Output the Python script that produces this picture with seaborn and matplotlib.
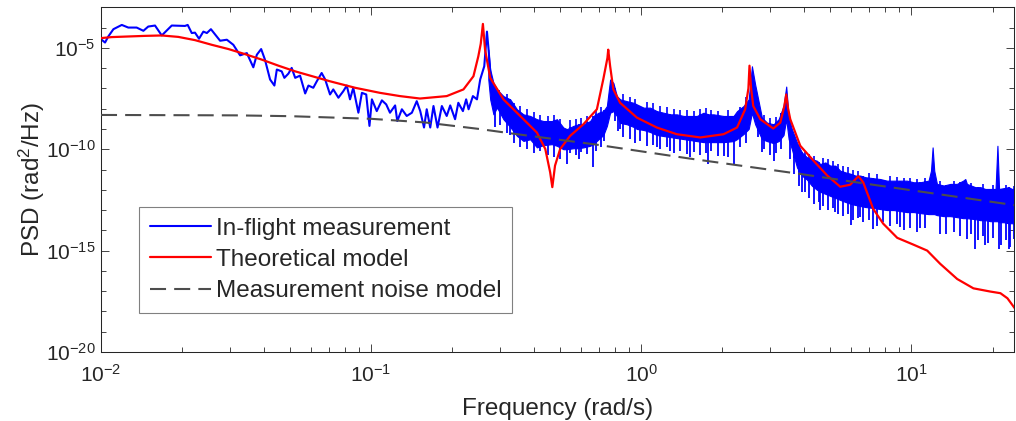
import numpy as np
import matplotlib
matplotlib.use("Agg")
import matplotlib.pyplot as plt
import seaborn as sns
from matplotlib.ticker import FixedLocator, LogLocator, LogFormatterSciNotation, NullFormatter

# values, kept as log10(frequency) / log10(PSD)

# in-flight measurement, low frequency part (single wiggly trace)
meas_lf = [-2.00, -1.985, -1.973, -1.954, -1.923, -1.899, -1.868, -1.843, -1.825, -1.800,
           -1.775, -1.738, -1.689, -1.679, -1.664, -1.652, -1.637, -1.621, -1.608, -1.593,
           -1.559, -1.534, -1.510, -1.485, -1.460, -1.436, -1.423, -1.407, -1.393, -1.374,
           -1.358, -1.349, -1.331, -1.321, -1.306, -1.294, -1.281, -1.263, -1.244, -1.232,
           -1.214, -1.201, -1.183, -1.170, -1.152, -1.140, -1.121, -1.103, -1.090, -1.078,
           -1.066, -1.047, -1.034, -1.018, -1.006, -0.997, -0.979, -0.960, -0.944, -0.930,
           -0.911, -0.903, -0.886, -0.868, -0.849, -0.831, -0.818, -0.804, -0.794, -0.781,
           -0.769, -0.754, -0.738, -0.720, -0.707, -0.689, -0.677, -0.660, -0.648, -0.639,
           -0.623, -0.608, -0.596, -0.581, -0.571, -0.565, -0.553]
meas_lpsd = [-4.57, -4.74, -4.44, -4.08, -3.87, -4.00, -4.00, -4.16, -3.95, -3.90,
             -4.39, -3.90, -3.92, -3.87, -4.27, -4.25, -4.55, -4.20, -4.27, -4.08,
             -4.65, -4.60, -4.85, -5.37, -5.26, -5.96, -5.34, -5.06, -5.58, -6.56,
             -6.86, -6.07, -6.16, -6.48, -6.27, -5.99, -6.48, -6.37, -7.25, -6.86,
             -6.97, -6.65, -6.24, -6.56, -7.30, -7.05, -7.46, -7.14, -6.86, -7.54,
             -6.97, -8.20, -7.22, -7.30, -8.85, -7.54, -8.12, -7.59, -7.79, -8.20,
             -7.84, -8.61, -8.03, -8.36, -8.20, -7.63, -8.12, -8.93, -8.03, -8.93,
             -7.87, -8.93, -7.87, -8.36, -7.84, -8.52, -7.71, -8.12, -7.54, -8.03,
             -7.38, -7.54, -6.56, -5.91, -4.20, -5.09, -7.22]

# in-flight measurement, dense high frequency part: top and usual bottom of the band
band_lf = [-0.566, -0.559, -0.547, -0.534, -0.510, -0.485, -0.460, -0.436, -0.411, -0.386,
           -0.362, -0.331, -0.312, -0.288, -0.275, -0.251, -0.232, -0.214, -0.189, -0.177,
           -0.158, -0.140, -0.127, -0.115, -0.103, -0.090, -0.078, -0.053, -0.028, -0.016,
           0.009, 0.033, 0.058, 0.083, 0.108, 0.132, 0.157, 0.182, 0.206, 0.231,
           0.249, 0.268, 0.305, 0.342, 0.355, 0.379, 0.398, 0.410, 0.422, 0.447,
           0.466, 0.490, 0.509, 0.527, 0.537, 0.546, 0.558, 0.577, 0.595, 0.614,
           0.632, 0.651, 0.663, 0.682, 0.700, 0.719, 0.737, 0.756, 0.778, 0.793,
           0.811, 0.830, 0.860, 0.885, 0.910, 0.935, 0.959, 0.984, 1.009, 1.033,
           1.064, 1.073, 1.079, 1.085, 1.095, 1.120, 1.145, 1.169, 1.192, 1.200,
           1.206, 1.237, 1.256, 1.274, 1.293, 1.312, 1.319, 1.325, 1.342, 1.360,
           1.373, 1.389]
band_hi = [-5.09, -6.07, -6.73, -7.05, -7.38, -7.54, -8.03, -8.28, -8.36, -8.52,
           -8.61, -8.61, -8.52, -8.93, -9.01, -8.85, -8.77, -8.77, -8.61, -8.36,
           -8.20, -8.12, -7.87, -6.56, -6.73, -7.38, -7.54, -7.63, -7.71, -7.79,
           -7.95, -7.95, -8.12, -8.20, -8.28, -8.28, -8.36, -8.36, -8.36, -8.20,
           -8.28, -8.28, -8.36, -8.36, -8.12, -7.87, -7.54, -5.91, -6.81, -8.44,
           -8.69, -8.77, -8.52, -7.87, -6.91, -8.43, -9.01, -9.67, -10.16, -10.40,
           -10.49, -10.57, -10.73, -10.65, -10.81, -10.81, -11.06, -11.14, -11.22, -11.30,
           -11.30, -11.38, -11.43, -11.47, -11.55, -11.55, -11.55, -11.55, -11.63, -11.63,
           -11.55, -11.06, -9.91, -11.06, -11.71, -11.79, -11.71, -11.71, -11.55, -11.47,
           -11.71, -11.87, -11.87, -11.96, -11.96, -11.96, -9.83, -11.96, -11.92, -11.87,
           -11.96, -11.96]
band_lo = [-6.56, -7.54, -8.28, -7.94, -8.52, -8.90, -9.34, -9.59, -9.51, -9.91,
           -9.80, -9.75, -9.83, -10.00, -10.00, -9.95, -9.95, -9.91, -9.83, -9.75,
           -9.51, -9.30, -8.85, -8.20, -8.12, -8.36, -8.70, -8.77, -8.90, -9.00,
           -9.05, -9.15, -9.30, -9.35, -9.40, -9.45, -9.50, -9.55, -9.60, -9.65,
           -9.65, -9.65, -9.65, -9.60, -9.50, -9.25, -9.00, -8.20, -8.77, -9.50,
           -9.60, -9.70, -9.60, -9.30, -8.52, -9.50, -10.00, -10.90, -11.30, -11.50,
           -11.80, -12.00, -12.10, -12.20, -12.30, -12.40, -12.50, -12.60, -12.70, -12.75,
           -12.80, -12.85, -12.90, -12.95, -13.00, -13.00, -13.05, -13.10, -13.10, -13.15,
           -13.20, -13.20, -13.20, -13.20, -13.25, -13.30, -13.30, -13.35, -13.40, -13.40,
           -13.40, -13.45, -13.50, -13.50, -13.55, -13.55, -13.55, -13.60, -13.60, -13.65,
           -13.65, -13.70]

# narrow dips hanging below the band
dip_lf = [-0.540, -0.522, -0.497, -0.485, -0.472, -0.448, -0.423, -0.398, -0.374, -0.346,
          -0.322, -0.300, -0.275, -0.262, -0.242, -0.232, -0.222, -0.200, -0.177, -0.168,
          -0.150, -0.138, -0.096, -0.084, -0.078, -0.066, -0.040, -0.022, -0.004, 0.021,
          0.045, 0.058, 0.070, 0.095, 0.108, 0.120, 0.145, 0.170, 0.182, 0.194,
          0.218, 0.240, 0.249, 0.258, 0.286, 0.305, 0.323, 0.342, 0.365, 0.388,
          0.434, 0.447, 0.456, 0.478, 0.490, 0.500, 0.518, 0.552, 0.567, 0.586,
          0.595, 0.605, 0.623, 0.641, 0.657, 0.663, 0.672, 0.691, 0.709, 0.719,
          0.728, 0.746, 0.767, 0.778, 0.786, 0.802, 0.811, 0.820, 0.845, 0.860,
          0.872, 0.897, 0.922, 0.947, 0.959, 0.972, 0.997, 1.021, 1.033, 1.049,
          1.108, 1.130, 1.157, 1.181, 1.206, 1.222, 1.237, 1.247, 1.265, 1.274,
          1.284, 1.302, 1.325, 1.334, 1.351, 1.360, 1.367, 1.382]
dip_lpsd = [-8.90, -8.80, -9.20, -9.30, -9.70, -9.90, -10.00, -10.20, -10.10, -10.30,
            -10.40, -10.50, -10.73, -10.20, -10.30, -10.49, -10.15, -10.25, -10.89, -10.10,
            -9.90, -9.59, -8.60, -9.10, -9.01, -9.40, -9.50, -9.70, -9.60, -9.85,
            -9.80, -9.91, -10.00, -9.90, -10.08, -10.20, -10.10, -10.25, -10.40, -10.15,
            -10.30, -10.20, -10.73, -10.10, -10.35, -10.32, -10.40, -10.73, -9.90, -9.70,
            -9.40, -10.16, -10.00, -10.30, -10.57, -10.20, -10.00, -10.50, -11.20, -11.80,
            -12.12, -12.10, -12.40, -12.70, -12.60, -13.02, -12.80, -13.00, -12.90, -13.10,
            -13.20, -13.30, -13.20, -13.75, -13.50, -13.40, -13.33, -13.60, -13.50, -13.92,
            -13.80, -13.57, -13.80, -13.70, -13.82, -14.00, -13.90, -14.10, -13.90, -13.90,
            -14.20, -14.16, -14.10, -14.30, -14.41, -14.20, -14.90, -14.50, -14.30, -14.74,
            -14.60, -14.40, -14.90, -14.70, -14.50, -14.90, -14.80, -14.41]

# short needles poking above the band
tip_lf = [-0.528, -0.497, -0.472, -0.448, -0.423, -0.398, -0.374, -0.346, -0.322, -0.300,
          -0.262, -0.242, -0.222, -0.200, -0.168, -0.150, -0.096, -0.066, -0.040, -0.022,
          0.021, 0.045, 0.070, 0.095, 0.120, 0.145, 0.170, 0.194, 0.218, 0.240,
          0.258, 0.286, 0.323, 0.365, 0.388, 0.434, 0.456, 0.478, 0.500, 0.518,
          0.567, 0.586, 0.605, 0.623, 0.641, 0.672, 0.691, 0.709, 0.728, 0.746,
          0.767, 0.786, 0.802, 0.845, 0.872, 0.922, 0.947, 0.972, 0.997, 1.021,
          1.049, 1.108, 1.157, 1.222, 1.265, 1.302, 1.351, 1.382]
tip_lpsd = [-7.10, -7.30, -7.70, -7.85, -8.00, -8.15, -8.30, -8.35, -8.30, -8.50,
            -8.55, -8.50, -8.45, -8.35, -8.05, -7.90, -7.00, -7.30, -7.40, -7.50,
            -7.65, -7.70, -7.85, -7.90, -8.00, -8.05, -8.05, -8.10, -8.00, -7.95,
            -8.05, -8.10, -8.05, -7.90, -7.40, -7.90, -8.30, -8.45, -8.40, -8.20,
            -9.30, -9.80, -10.15, -10.25, -10.35, -10.45, -10.50, -10.60, -10.75, -10.85,
            -10.90, -11.00, -11.05, -11.15, -11.20, -11.30, -11.35, -11.40, -11.40, -11.45,
            -11.40, -11.55, -11.55, -11.65, -11.70, -11.75, -11.75, -11.80]

# theoretical model
model_lf = [-2.000, -1.960, -1.899, -1.837, -1.775, -1.714, -1.652, -1.590, -1.528, -1.467,
            -1.405, -1.343, -1.281, -1.152, -1.059, -0.967, -0.893, -0.819, -0.720, -0.658,
            -0.621, -0.603, -0.594, -0.586, -0.578, -0.559, -0.510, -0.448, -0.386, -0.355,
            -0.337, -0.329, -0.319, -0.300, -0.263, -0.214, -0.164, -0.140, -0.125, -0.122,
            -0.115, -0.103, -0.078, -0.016, 0.058, 0.132, 0.219, 0.305, 0.355, 0.385,
            0.397, 0.401, 0.407, 0.415, 0.441, 0.489, 0.515, 0.530, 0.537, 0.544,
            0.552, 0.589, 0.637, 0.689, 0.737, 0.774, 0.804, 0.822, 0.859, 0.896,
            0.948, 1.007, 1.059, 1.107, 1.170, 1.230, 1.293, 1.330, 1.356, 1.389]
model_lpsd = [-4.52, -4.47, -4.44, -4.41, -4.39, -4.46, -4.62, -4.85, -5.06, -5.31,
              -5.58, -5.88, -6.16, -6.65, -6.97, -7.22, -7.38, -7.50, -7.38, -7.05,
              -6.40, -5.42, -4.80, -3.82, -5.09, -6.48, -7.54, -8.36, -9.18, -9.99,
              -11.14, -11.87, -10.81, -9.99, -9.34, -8.77, -8.03, -6.53, -5.50, -5.09,
              -5.90, -7.05, -7.71, -8.44, -8.93, -9.26, -9.42, -9.26, -8.93, -8.03,
              -7.00, -5.88, -7.00, -7.87, -8.52, -8.98, -8.69, -7.87, -7.30, -8.00,
              -8.52, -9.83, -10.55, -11.30, -11.85, -11.75, -11.33, -11.63, -12.94, -13.67,
              -14.37, -14.70, -15.00, -15.65, -16.40, -16.86, -17.02, -17.10, -17.35, -17.95]

# measurement noise model
noise_lf = [-2.0, -1.5, -1.3, -1.0, -0.8, -0.6, -0.459, -0.178, 0.174, 0.589, 0.811, 1.389]
noise_lpsd = [-8.31, -8.33, -8.37, -8.50, -8.68, -9.00, -9.26, -9.75, -10.45, -11.22, -11.66, -12.77]

sns.set_style("ticks")
plt.rcParams["font.family"] = ["Liberation Sans", "DejaVu Sans"]
plt.rcParams["mathtext.default"] = "regular"

ink = "#262626"
blue = "#0000ff"
fig = plt.figure(figsize=(10.16, 4.21), dpi=100)
ax = fig.add_axes([0.0994, 0.1639, 0.8986, 0.8188])
ax.set_xscale("log")
ax.set_yscale("log")

p = lambda v: 10.0 ** np.asarray(v)

ax.fill_between(p(band_lf), p(band_lo), p(band_hi), color=blue, lw=0.8, zorder=2)
# needles are anchored inside the band so they join it
dip_top = np.interp(dip_lf, band_lf, band_hi)
ax.vlines(p(dip_lf), p(dip_lpsd), p(dip_top), color=blue, lw=1.3, zorder=2)
tip_base = np.interp(tip_lf, band_lf, band_lo)
ax.vlines(p(tip_lf), p(tip_base), p(tip_lpsd), color=blue, lw=1.2, zorder=2)

sns.lineplot(x=p(meas_lf), y=p(meas_lpsd), color=blue, lw=1.5, ax=ax,
             estimator=None, sort=False, label="In-flight measurement", zorder=2)
sns.lineplot(x=p(model_lf), y=p(model_lpsd), color="#ff0000", lw=1.6, ax=ax,
             estimator=None, sort=False, label="Theoretical model", zorder=3)
sns.lineplot(x=p(noise_lf), y=p(noise_lpsd), color="#4d4d4d", lw=1.5, ax=ax,
             estimator=None, sort=False, linestyle=(0, (7.7, 3.9)),
             label="Measurement noise model", zorder=4)

ax.set_xlim(1e-2, 24)
ax.set_ylim(1e-20, 1e-3)

ax.xaxis.set_major_locator(FixedLocator([1e-2, 1e-1, 1e0, 1e1]))
ax.xaxis.set_minor_locator(LogLocator(base=10, subs=np.arange(2, 10), numticks=20))
ax.yaxis.set_major_locator(FixedLocator([1e-20, 1e-15, 1e-10, 1e-5]))
ax.yaxis.set_minor_locator(LogLocator(base=10, subs=(1.0,), numticks=40))
ax.xaxis.set_major_formatter(LogFormatterSciNotation())
ax.yaxis.set_major_formatter(LogFormatterSciNotation())
ax.xaxis.set_minor_formatter(NullFormatter())
ax.yaxis.set_minor_formatter(NullFormatter())

ax.tick_params(which="both", direction="in", top=True, right=True, color=ink,
               labelcolor=ink, width=0.6, labelsize=15)
ax.tick_params(axis="y", pad=4)
ax.tick_params(axis="x", pad=8.5)
ax.tick_params(which="major", length=6)
ax.tick_params(which="minor", length=3.5)
for s in ax.spines.values():
    s.set_color(ink)
    s.set_linewidth(0.75)

ax.set_xlabel("Frequency (rad/s)", fontsize=17.5, color=ink, labelpad=8.5)
ax.set_ylabel("PSD (rad$^2$/Hz)", fontsize=17.5, color=ink, labelpad=-1)

leg = ax.legend(loc="lower left", bbox_to_anchor=(0.0416, 0.113), borderaxespad=0,
                fontsize=17.5, frameon=True, fancybox=False, edgecolor="#808080",
                framealpha=1, handlelength=2.5, handletextpad=0.2, borderpad=0.45,
                labelspacing=0.38)
leg.get_frame().set_linewidth(0.8)

fig.savefig("out.png", dpi=100)
